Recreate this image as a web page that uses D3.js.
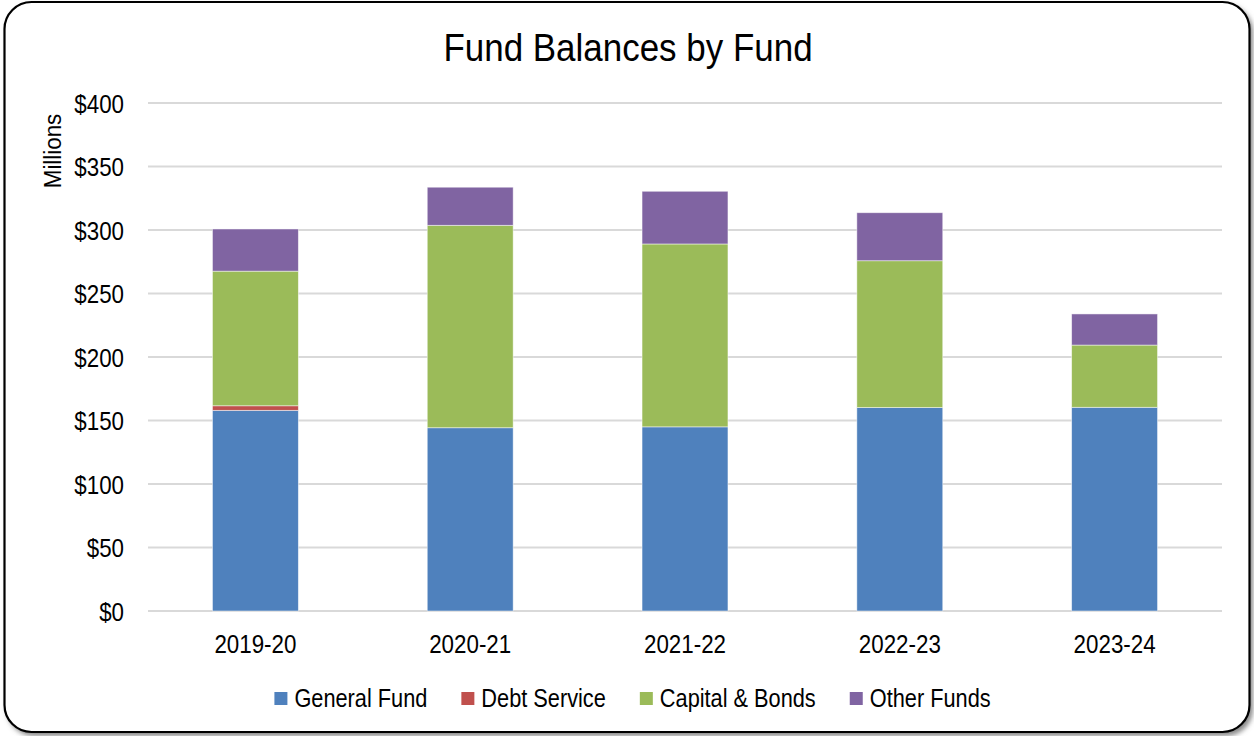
<!DOCTYPE html>
<html>
<head>
<meta charset="utf-8">
<script src="https://cdn.jsdelivr.net/npm/d3@7"></script>
<style>
  html, body { margin: 0; padding: 0; background: #fff; }
  svg { display: block; }
  text { font-family: "Liberation Sans Narrow", "Arial Narrow", "Liberation Sans", Arial, sans-serif; fill: #000; }
</style>
</head>
<body>
<svg id="chart" width="1254" height="736"></svg>
<script>
const categories = ["2019-20", "2020-21", "2021-22", "2022-23", "2023-24"];
const seriesNames = ["General Fund", "Debt Service", "Capital & Bonds", "Other Funds"];
const generalFund = [158, 144.3, 145, 160.2, 160.4];
const debtService = [3.6, 0, 0, 0, 0];
const capitalBonds = [106, 159.4, 144, 115.6, 49];
const otherFunds = [33.2, 30, 41.5, 37.8, 24.5];
const yTicks = [0, 50, 100, 150, 200, 250, 300, 350, 400];
const colors = ["#4F81BD", "#C0504D", "#9BBB59", "#8064A2"];

const svg = d3.select("#chart");

// narrow-font emulation factors
const tickScale = 0.86, legendScale = 0.87, titleScale = 0.92;

// frame with shadow
const defs = svg.append("defs");
const f = defs.append("filter").attr("id", "sh").attr("x", "-5%").attr("y", "-5%").attr("width", "110%").attr("height", "110%");
f.append("feGaussianBlur").attr("stdDeviation", 2.5);
svg.append("rect").attr("x", 7).attr("y", 5).attr("width", 1246).attr("height", 731)
  .attr("rx", 27).attr("fill", "#888").attr("filter", "url(#sh)");
svg.append("rect").attr("x", 4.5).attr("y", 2).attr("width", 1245).attr("height", 730)
  .attr("rx", 27).attr("fill", "#fff").attr("stroke", "#000").attr("stroke-width", 2.2);

const rows = categories.map((c, i) => ({
  cat: c,
  "General Fund": generalFund[i],
  "Debt Service": debtService[i],
  "Capital & Bonds": capitalBonds[i],
  "Other Funds": otherFunds[i]
}));
const stacked = d3.stack().keys(seriesNames)(rows);

const x = d3.scaleBand().domain(categories).range([148, 1222]).paddingInner(0.6).paddingOuter(0.3);
const y = d3.scaleLinear().domain([0, 400]).range([611, 103]);
const color = d3.scaleOrdinal().domain(seriesNames).range(colors);

// gridlines
svg.append("g").selectAll("line").data(yTicks).join("line")
  .attr("x1", 148).attr("x2", 1222)
  .attr("y1", d => y(d)).attr("y2", d => y(d))
  .attr("stroke", "#d9d9d9").attr("stroke-width", 1.8);

// y axis labels
const yAxis = d3.axisLeft(y).tickValues(yTicks).tickFormat(d => "$" + d).tickSize(0).tickPadding(0);
const ya = svg.append("g").attr("transform", "translate(124,0)").call(yAxis);
ya.select(".domain").remove();
ya.selectAll("text").attr("x", 0).attr("font-size", 26).attr("font-family", null).attr("dy", "0.35em")
  .attr("transform", `scale(${tickScale},1)`);

// x axis labels
const xAxis = d3.axisBottom(x).tickSize(0).tickPadding(0);
const xa = svg.append("g").attr("transform", "translate(0,653)").call(xAxis);
xa.select(".domain").remove();
xa.selectAll("text").attr("y", 0).attr("font-size", 26).attr("font-family", null).attr("dy", 0)
  .attr("transform", `scale(${tickScale},1)`);

// bars
svg.append("g").selectAll("g").data(stacked).join("g")
  .attr("fill", d => color(d.key))
  .selectAll("rect").data(d => d.filter(s => s[1] - s[0] > 0)).join("rect")
  .attr("x", d => x(d.data.cat))
  .attr("width", x.bandwidth())
  .attr("y", d => y(d[1]))
  .attr("height", d => y(d[0]) - y(d[1]))
  .attr("stroke", "rgba(255,255,255,0.6)").attr("stroke-width", 0.8);

// title
svg.append("g").attr("transform", "translate(628,61)")
  .append("text").attr("text-anchor", "middle").attr("font-size", 38)
  .attr("transform", `scale(${titleScale},1)`).text("Fund Balances by Fund");

// y label
svg.append("g").attr("transform", "translate(61,151) rotate(-90)")
  .append("text").attr("text-anchor", "middle").attr("font-size", 24)
  .attr("transform", "scale(0.93,1)").text("Millions");

// legend
const lg = svg.append("g");
const items = lg.selectAll("g").data(seriesNames).join("g");
items.append("rect").attr("width", 13).attr("height", 13).attr("y", 692).attr("fill", d => color(d));
items.append("g").attr("transform", "translate(20,707)")
  .append("text").attr("font-size", 25).attr("transform", `scale(${legendScale},1)`).text(d => d);
const widths = [];
items.each(function() { widths.push(this.querySelector("text").getComputedTextLength() * legendScale); });
const gap = 34;
const total = widths.reduce((a, w) => a + 20 + w, 0) + gap * (widths.length - 1);
let start = 632.5 - total / 2;
items.attr("transform", (d, i) => {
  const t = `translate(${start},0)`;
  start += 20 + widths[i] + gap;
  return t;
});
</script>
</body>
</html>
